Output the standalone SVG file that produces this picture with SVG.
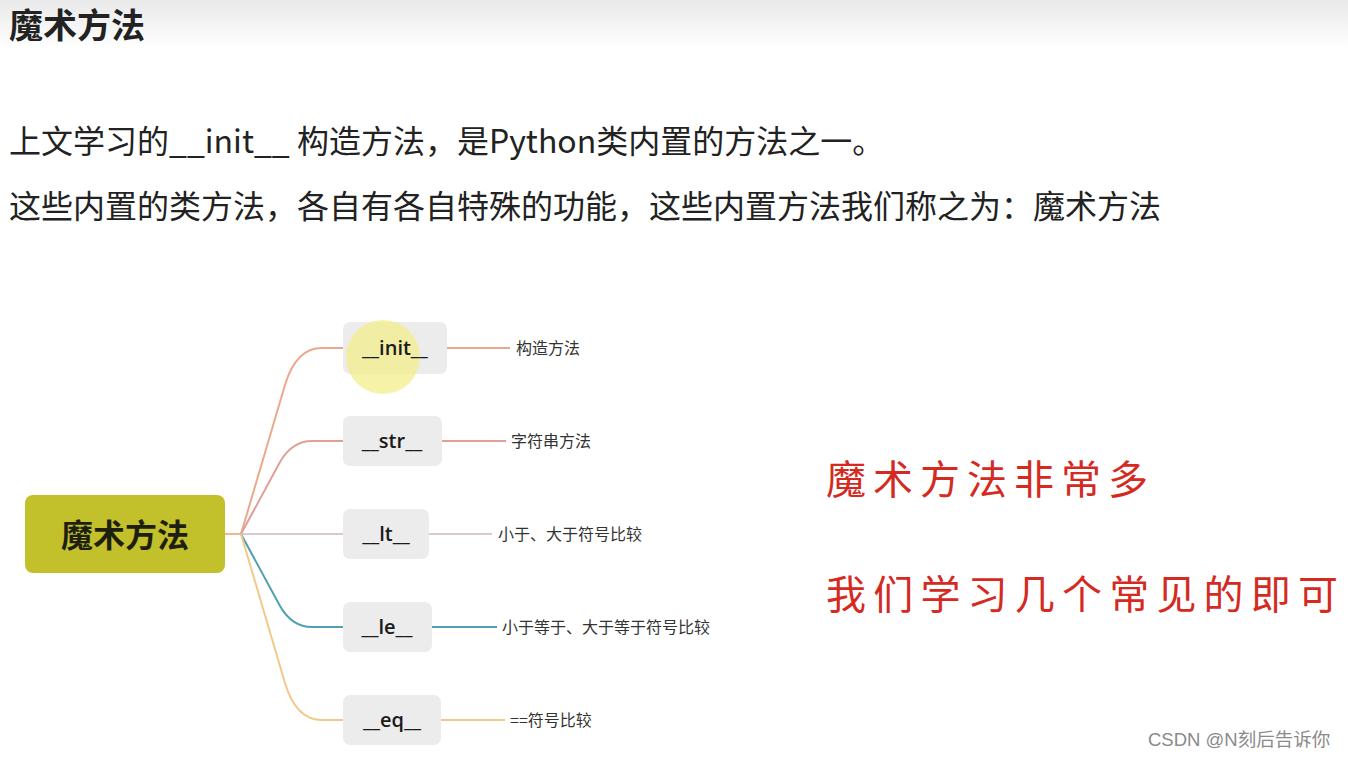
<svg xmlns="http://www.w3.org/2000/svg" width="1348" height="758" viewBox="0 0 1348 758">
<defs>
<linearGradient id="hdr" x1="0" y1="0" x2="0" y2="1">
<stop offset="0" stop-color="#e9e9e9"/>
<stop offset="1" stop-color="#ffffff"/>
</linearGradient>
<style>
.cjk{font-family:"Noto Sans CJK SC","Noto Sans",sans-serif}
.body{font-size:32px;fill:#222}
.child rect{fill:#ececec}
.child text{font-family:"Open Sans","Noto Sans CJK SC",sans-serif;font-size:20px;font-weight:600;fill:#1a1a1a;text-anchor:middle}
.lbl{font-family:"Noto Sans CJK SC",sans-serif;font-size:16px;fill:#333}
.conn path{fill:none;stroke-width:2}
.red{font-family:"Noto Sans CJK SC",sans-serif;font-size:40px;fill:#d42a1f;font-weight:400}
</style>
</defs>
<rect width="1348" height="758" fill="#ffffff"/>
<rect width="1348" height="48" fill="url(#hdr)"/>
<text class="cjk" x="9" y="38" font-size="34" font-weight="700" fill="#222">魔术方法</text>
<text class="cjk body" x="9" y="153">上文学习的__init__ 构造方法，是Python类内置的方法之一。</text>
<text class="cjk body" x="9" y="218">这些内置的类方法，各自有各自特殊的功能，这些内置方法我们称之为：魔术方法</text>

<g id="connectors" class="conn">
<path d="M225,534 L241,534" stroke="#f0b98a"/>
<path d="M241,534 L285,385 Q296,348 322,348 L343,348" stroke="#eba88a"/>
<path d="M241,534 L280,462 Q292,441 312,441 L343,441" stroke="#e0a097"/>
<path d="M241,534 L343,534" stroke="#dcc8cd"/>
<path d="M241,534 L280,606 Q292,627 312,627 L343,627" stroke="#4fa0b0"/>
<path d="M241,534 L285,683 Q296,720 322,720 L343,720" stroke="#f3c98a"/>
<path d="M447,348 L510,348" stroke="#eba88a"/>
<path d="M442,441 L506,441" stroke="#e0a097"/>
<path d="M429,534 L492,534" stroke="#dcc8cd"/>
<path d="M432,627 L497,627" stroke="#4fa0b0"/>
<path d="M441,720 L505,720" stroke="#f3c98a"/>
</g>

<g id="root">
<rect x="25" y="495" width="200" height="78" rx="8" fill="#c2c12c"/>
<text class="cjk" x="125" y="547" font-size="32" font-weight="700" fill="#1f1f10" text-anchor="middle">魔术方法</text>
</g>

<g id="n-init" class="child">
<rect x="343" y="322" width="104" height="52" rx="7"/>
<circle cx="383" cy="357" r="37" fill="#f3ef8c" opacity="0.75"/>
<text x="395" y="355">__init__</text>
</g>
<g id="n-str" class="child">
<rect x="343" y="416" width="99" height="50" rx="7"/>
<text x="392" y="448">__str__</text>
</g>
<g id="n-lt" class="child">
<rect x="343" y="509" width="86" height="50" rx="7"/>
<text x="386" y="541">__lt__</text>
</g>
<g id="n-le" class="child">
<rect x="343" y="602" width="89" height="50" rx="7"/>
<text x="387" y="634">__le__</text>
</g>
<g id="n-eq" class="child">
<rect x="343" y="695" width="98" height="50" rx="7"/>
<text x="392" y="727">__eq__</text>
</g>

<g id="labels">
<text class="lbl" x="516" y="354">构造方法</text>
<text class="lbl" x="511" y="447">字符串方法</text>
<text class="lbl" x="498" y="540">小于、大于符号比较</text>
<text class="lbl" x="502" y="633">小于等于、大于等于符号比较</text>
<text class="lbl" x="510" y="726">==符号比较</text>
</g>

<text class="red" x="826" y="494" letter-spacing="7">魔术方法非常多</text>
<text class="red" x="826" y="609" letter-spacing="7.2">我们学习几个常见的即可</text>

<text x="1148" y="746" font-family="Liberation Sans,Noto Sans CJK SC,sans-serif" font-size="18.5" fill="#8a8a8a">CSDN @N刻后告诉你</text>
</svg>
